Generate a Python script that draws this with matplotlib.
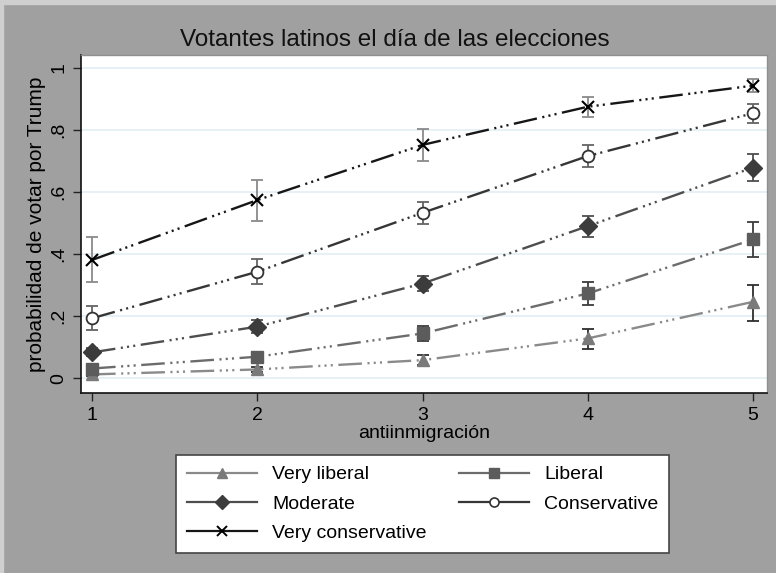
import matplotlib
matplotlib.use("Agg")
import matplotlib.pyplot as plt
from matplotlib import font_manager
from matplotlib.lines import Line2D
from matplotlib.patches import Rectangle

# antiinmigración scale
x = [1, 2, 3, 4, 5]
series = ["Very liberal", "Liberal", "Moderate", "Conservative", "Very conservative"]

# predicted probability and 95% CI (lower, upper)
very_liberal = [0.012, 0.028, 0.058, 0.128, 0.246]
very_liberal_lo = [0.006, 0.019, 0.042, 0.094, 0.184]
very_liberal_hi = [0.019, 0.037, 0.076, 0.160, 0.300]

liberal = [0.031, 0.069, 0.144, 0.273, 0.447]
liberal_lo = [0.021, 0.056, 0.120, 0.236, 0.390]
liberal_hi = [0.041, 0.083, 0.168, 0.311, 0.504]

moderate = [0.083, 0.166, 0.305, 0.490, 0.679]
moderate_lo = [0.070, 0.145, 0.282, 0.456, 0.636]
moderate_hi = [0.096, 0.189, 0.329, 0.523, 0.723]

conservative = [0.193, 0.343, 0.533, 0.716, 0.854]
conservative_lo = [0.155, 0.303, 0.496, 0.682, 0.824]
conservative_hi = [0.232, 0.383, 0.569, 0.752, 0.884]

very_conservative = [0.381, 0.574, 0.752, 0.875, 0.943]
very_conservative_lo = [0.310, 0.507, 0.701, 0.843, 0.924]
very_conservative_hi = [0.455, 0.639, 0.802, 0.907, 0.963]

yticks = [0, 0.2, 0.4, 0.6, 0.8, 1]
yticklabels = ["0", ".2", ".4", ".6", ".8", "1"]

est = [very_liberal, liberal, moderate, conservative, very_conservative]
lo = [very_liberal_lo, liberal_lo, moderate_lo, conservative_lo, very_conservative_lo]
hi = [very_liberal_hi, liberal_hi, moderate_hi, conservative_hi, very_conservative_hi]

line_colors = ["#8a8a8a", "#6c6c6c", "#4e4e4e", "#363636", "#161616"]
marker_colors = ["#7a7a7a", "#5c5c5c", "#3c3c3c", "#333333", "#000000"]
err_colors = ["#2e2e2e", "#3c3c3c", "#4e4e4e", "#646464", "#8a8a8a"]
markers = ["^", "s", "D", "o", "x"]
msizes = [8, 8, 9, 8.5, 8]

installed = {f.name for f in font_manager.fontManager.ttflist}
narrow = "Liberation Sans Narrow" if "Liberation Sans Narrow" in installed else "Liberation Sans"
plt.rcParams["font.family"] = ["Liberation Sans", "DejaVu Sans"]
plt.rcParams["lines.scale_dashes"] = False

fig = plt.figure(figsize=(7.76, 5.73), dpi=100)
fig.patch.set_facecolor("#a0a0a0")
# thin light strip along the top and left edge
fig.patches.append(Rectangle((0, 0.993), 1, 0.007, transform=fig.transFigure, color="#cfcfcf", zorder=0))
fig.patches.append(Rectangle((0, 0), 0.004, 1, transform=fig.transFigure, color="#cfcfcf", zorder=0))

ax = fig.add_axes([0.1044, 0.3141, 0.884, 0.590])
ax.set_facecolor("white")

dash = (0, (17, 4, 1.5, 3, 1.5, 3, 1.5, 4))
for i in range(len(series)):
    yerr = [[e - l for e, l in zip(est[i], lo[i])], [h - e for e, h in zip(est[i], hi[i])]]
    ax.errorbar(x, est[i], yerr=yerr, fmt="none", ecolor=err_colors[i],
                elinewidth=1.3, capsize=4, capthick=1.3, zorder=2)
    ax.plot(x, est[i], color=line_colors[i], lw=1.7, linestyle=dash, zorder=3)
    if markers[i] == "o":
        ax.plot(x, est[i], linestyle="none", marker="o", ms=msizes[i], mfc="white",
                mec=marker_colors[i], mew=1.3, zorder=4)
    elif markers[i] == "x":
        ax.plot(x, est[i], linestyle="none", marker="x", ms=msizes[i],
                mec=marker_colors[i], mew=1.5, zorder=4)
    else:
        ax.plot(x, est[i], linestyle="none", marker=markers[i], ms=msizes[i],
                mfc=marker_colors[i], mec=marker_colors[i], zorder=4)

ax.set_xlim(0.9334, 5.0847)
ax.set_ylim(-0.048, 1.042)
ax.set_xticks(x)
ax.set_xticklabels([str(v) for v in x], fontsize=14, family=narrow)
ax.set_yticks(yticks)
ax.set_yticklabels(yticklabels, fontsize=14, family=narrow, rotation=90, va="center")
ax.tick_params(axis="both", direction="out", length=6, width=1, color="#222222", pad=4)
ax.grid(axis="y", color="#e3eef3", lw=1.2)
ax.set_axisbelow(True)

for s in ["top", "right"]:
    ax.spines[s].set_color("#8f8f8f")
    ax.spines[s].set_linewidth(1)
for s in ["left", "bottom"]:
    ax.spines[s].set_color("#111111")
    ax.spines[s].set_linewidth(1.2)

ax.set_xlabel("antiinmigración", fontsize=14, family=narrow, labelpad=1)
ax.set_ylabel("probabilidad de votar por Trump", fontsize=15, labelpad=3)
fig.text(0.509, 0.930, "Votantes latinos el día de las elecciones", fontsize=17.5,
         ha="center", va="center", color="#111111")

# legend: solid lines with marker in the middle
handles = []
for i in range(len(series)):
    if markers[i] == "o":
        h = Line2D([], [], color=line_colors[i], lw=1.6, marker="o", ms=6.5, mfc="white",
                   mec=marker_colors[i], mew=1.2)
    elif markers[i] == "x":
        h = Line2D([], [], color=line_colors[i], lw=1.6, marker="x", ms=7, mec=marker_colors[i], mew=1.4)
    else:
        h = Line2D([], [], color=line_colors[i], lw=1.6, marker=markers[i], ms=7.5,
                   mfc=marker_colors[i], mec=marker_colors[i])
    handles.append(h)
order = [0, 2, 4, 1, 3]
leg = fig.legend([handles[k] for k in order], [series[k] for k in order],
                 loc="upper left", bbox_to_anchor=(0.2268, 0.2059), ncol=2,
                 fontsize=14, frameon=True, fancybox=False, framealpha=1,
                 facecolor="white", handlelength=3.6, handletextpad=0.8,
                 columnspacing=1.65, labelspacing=0.6, borderpad=0.55, borderaxespad=0)
leg.get_frame().set_edgecolor("#444444")
leg.get_frame().set_linewidth(1.2)

fig.savefig("out.png", dpi=100, facecolor=fig.get_facecolor())
